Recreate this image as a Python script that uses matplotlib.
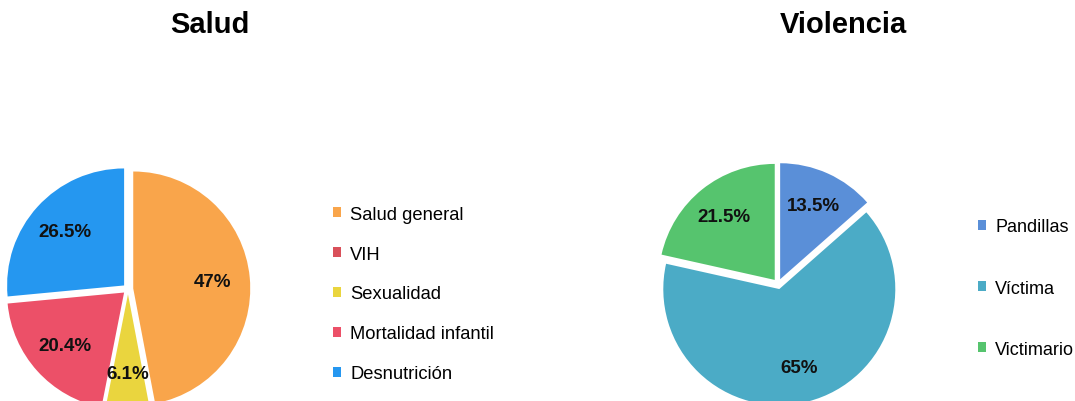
import matplotlib.pyplot as plt

plt.rcParams['font.family'] = ['Liberation Sans', 'DejaVu Sans']

# Salud
salud_labels = ['Salud general', 'VIH', 'Sexualidad', 'Mortalidad infantil', 'Desnutrición']
salud_values = [47, 0, 6.1, 20.4, 26.5]
salud_colors = ['#F9A54B', '#D9505A', '#EAD53E', '#EC5068', '#2597F0']

# Violencia
viol_labels = ['Pandillas', 'Víctima', 'Victimario']
viol_values = [13.5, 65, 21.5]
viol_colors = ['#5A8FD8', '#4BABC6', '#56C46E']

W, H = 1075, 402


def pct_fmt(p):
    if p < 0.05:
        return ''
    return '{:g}%'.format(round(p, 1))


def pie_axes(fig, cx, cy, r):
    # cx, cy in pixels from top-left, r radius in px
    ax = fig.add_axes([(cx - 1.3 * r) / W, (H - cy - 1.3 * r) / H,
                       2.6 * r / W, 2.6 * r / H])
    return ax


fig = plt.figure(figsize=(W / 100, H / 100), dpi=100)

lbl = {'fontsize': 13.5, 'fontweight': 'bold', 'color': '#111111'}

ax1 = pie_axes(fig, 128, 290, 117)
w1, _, t1 = ax1.pie(salud_values, colors=salud_colors, startangle=90, counterclock=False,
                    explode=[0.045] * len(salud_values), autopct=pct_fmt, pctdistance=0.68,
                    textprops=lbl)
ax1.set_xlim(-1.3, 1.3)
ax1.set_ylim(-1.3, 1.3)
ax1.axis('off')

ax2 = pie_axes(fig, 778, 285, 116)
w2, _, t2 = ax2.pie(viol_values, colors=viol_colors, startangle=90, counterclock=False,
                    explode=[0.045] * len(viol_values), autopct=pct_fmt, pctdistance=0.7,
                    textprops=lbl)
ax2.set_xlim(-1.3, 1.3)
ax2.set_ylim(-1.3, 1.3)
ax2.axis('off')

fig.text(210 / W, 1 - 25 / H, 'Salud', ha='center', va='center', fontsize=21, fontweight='bold')
fig.text(843 / W, 1 - 25 / H, 'Violencia', ha='center', va='center', fontsize=21, fontweight='bold')

fig.legend(w1, salud_labels, loc='center left', bbox_to_anchor=(333 / W, 1 - 295 / H),
           frameon=False, borderpad=0, borderaxespad=0, fontsize=13.2,
           handlelength=0.45, handleheight=0.45, handletextpad=0.5, labelspacing=1.25)
fig.legend(w2, viol_labels, loc='center left', bbox_to_anchor=(978 / W, 1 - 289 / H),
           frameon=False, borderpad=0, borderaxespad=0, fontsize=13,
           handlelength=0.45, handleheight=0.45, handletextpad=0.5, labelspacing=2.45)

fig.savefig('out.png', dpi=100)
